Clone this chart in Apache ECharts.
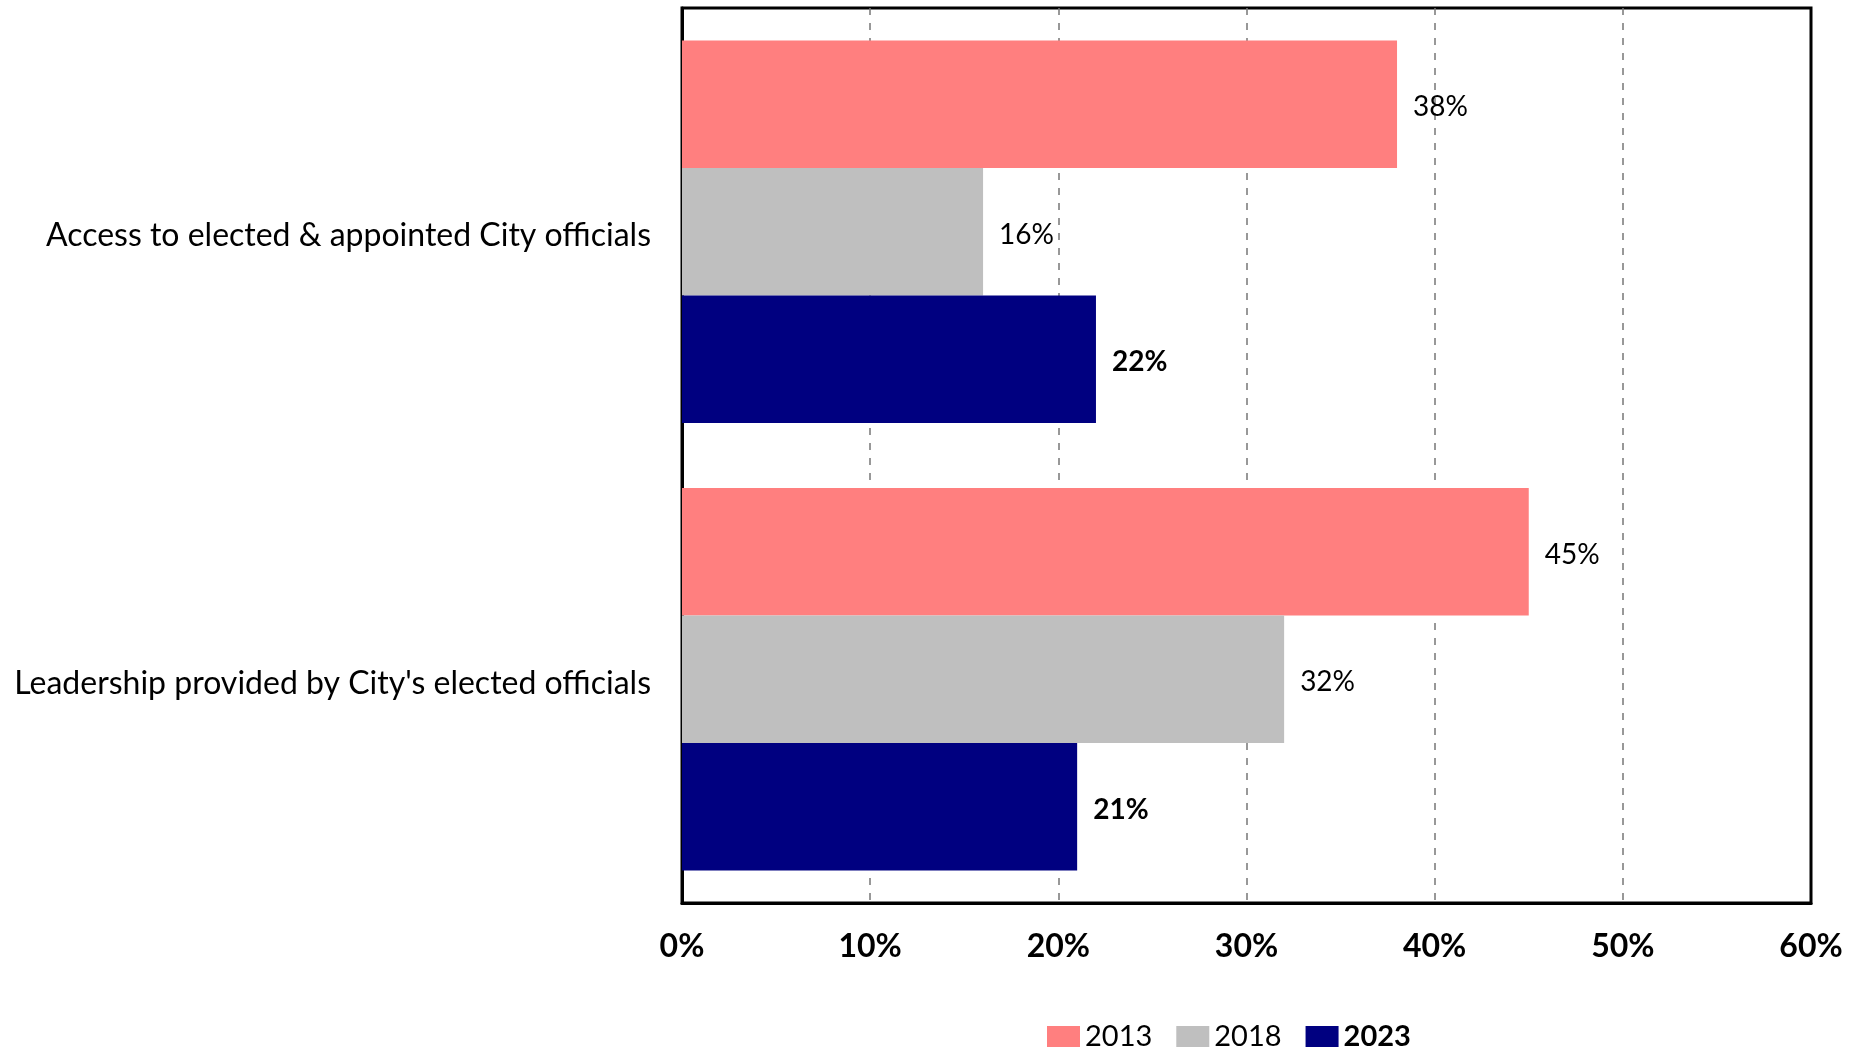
<!DOCTYPE html>
<html>
<head>
<meta charset="utf-8">
<script src="https://cdn.jsdelivr.net/npm/echarts@6/dist/echarts.min.js"></script>
<style>
  html, body { margin: 0; padding: 0; background: #fff; }
  #chart { width: 1870px; height: 1048px; }
</style>
</head>
<body>
<div id="chart"></div>
<script>
// Survey items, top to bottom
const categories = [
  'Access to elected & appointed City officials',
  "Leadership provided by City's elected officials"
];
// Percent satisfied by survey year
const years = ['2013', '2018', '2023'];
const values2013 = [38, 45];
const values2018 = [16, 32];
const values2023 = [22, 21];
const xTicks = [0, 10, 20, 30, 40, 50, 60];

const FONT = 'Lato';
const colors = { '2013': '#FF7F7F', '2018': '#BFBFBF', '2023': '#000080' };

function barSeries(name, data, bold) {
  return {
    name: name,
    type: 'bar',
    data: data,
    barGap: '0%',
    barCategoryGap: '14.5%',
    itemStyle: { color: colors[name] },
    label: {
      show: true,
      position: 'right',
      distance: 16,
      offset: [0, 3],
      formatter: p => p.value + '%',
      fontFamily: FONT,
      fontSize: 28,
      fontWeight: bold ? 'bold' : 'normal',
      color: '#000'
    }
  };
}

const chart = echarts.init(document.getElementById('chart'), null, { renderer: 'canvas' });
chart.setOption({
  animation: false,
  backgroundColor: '#fff',
  grid: {
    left: 682, right: 59, top: 8, bottom: 145,
    show: true,
    borderColor: '#000',
    borderWidth: 3,
    containLabel: false
  },
  legend: {
    data: years,
    left: 1042,
    top: 1017,
    itemWidth: 33,
    itemHeight: 21,
    itemGap: 24,
    icon: 'rect',
    textStyle: {
      fontFamily: FONT,
      fontSize: 29,
      color: '#000',
      rich: {
        b: { fontFamily: FONT, fontSize: 29, fontWeight: 'bold', color: '#000' }
      }
    },
    formatter: name => name === '2023' ? '{b|' + name + '}' : name
  },
  xAxis: {
    type: 'value',
    min: xTicks[0],
    max: xTicks[xTicks.length - 1],
    interval: 10,
    axisLine: { show: true, lineStyle: { color: '#000', width: 3 } },
    axisTick: { show: false },
    axisLabel: {
      formatter: v => v + '%',
      fontFamily: FONT,
      fontSize: 32,
      fontWeight: 'bold',
      color: '#000',
      margin: 28
    },
    splitLine: {
      show: true,
      showMinLine: false,
      showMaxLine: false,
      lineStyle: { color: '#777', width: 1.5, type: [7, 8] }
    }
  },
  yAxis: {
    type: 'category',
    data: categories,
    inverse: true,
    axisLine: { show: true, lineStyle: { color: '#000', width: 3 } },
    axisTick: { show: false },
    axisLabel: {
      color: '#000',
      margin: 31,
      formatter: v => '{c|' + v + '}',
      rich: {
        c: { fontFamily: FONT, fontSize: 32, color: '#000', padding: [8, 0, 0, 0] }
      }
    },
    splitLine: { show: false }
  },
  series: [
    barSeries('2013', values2013, false),
    barSeries('2018', values2018, false),
    barSeries('2023', values2023, true)
  ]
});
</script>
</body>
</html>
